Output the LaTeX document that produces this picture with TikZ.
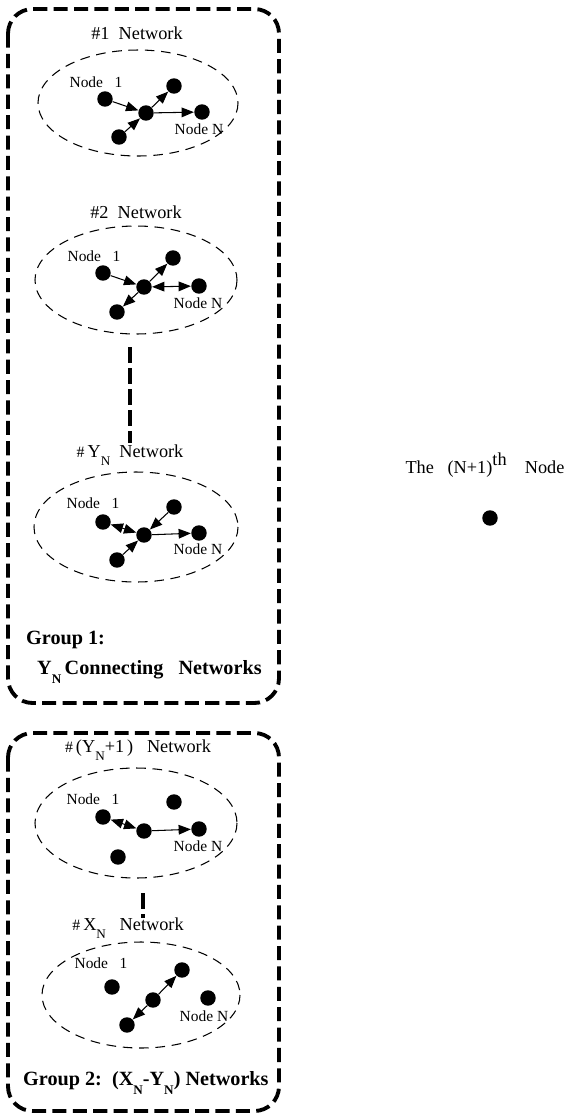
\documentclass[tikz,border=0pt]{standalone}
\usepackage{fontspec}
\setmainfont{Liberation Serif}
\usetikzlibrary{arrows.meta}

% subindice N colgado, como en el original
\newcommand{\subN}{\raisebox{-1ex}{\fontsize{7.5}{8}\selectfont N}}

\tikzset{
  dot/.style={circle, fill, inner sep=0pt, minimum size=8.8pt},
  nettitle/.style={font=\fontsize{10.4}{12}\selectfont},
  nodelabel/.style={font=\fontsize{8.8}{10}\selectfont},
  grouplabel/.style={font=\fontsize{11.5}{13}\selectfont\bfseries, anchor=west},
  netline/.style={line width=0.6pt},
  oneway/.style={netline, -{Triangle[length=7pt,width=5.5pt]}},
  twoway/.style={netline, {Triangle[length=7pt,width=5.5pt]}-{Triangle[length=7pt,width=5.5pt]}},
  netborder/.style={line width=0.6pt, dash pattern=on 5.5pt off 3.8pt},
  groupbox/.style={line width=2.2pt, dash pattern=on 8pt off 3.6pt, rounded corners=14pt},
  gapline/.style={line width=2.2pt, dash pattern=on 9pt off 3pt}
}

\begin{document}
\begin{tikzpicture}[x=0.02cm, y=-0.02cm]
  \useasboundingbox (0,0) rectangle (575,1117);

  % Grupo 1
  \draw[groupbox] (8,9) rectangle (279,703);

  % Red #1
  \node[nettitle] (t1) at (137,33) {\#1\ \ Network};
  \draw[netborder] (138,103) ellipse (100 and 53);
  \node[dot] (a1) at (105,99) {};
  \node[dot] (ac) at (146,113) {};
  \node[dot] (at) at (174,86) {};
  \node[dot] (aN) at (202,112) {};
  \node[dot] (ab) at (119,137) {};
  \node[nodelabel] (la1) at (96,82) {Node\ \ \ 1};
  \node[nodelabel] (laN) at (199,129) {Node\ N};
  \draw[oneway] (a1) -- (ac);
  \draw[oneway] (ac) -- (at);
  \draw[oneway] (ac) -- (aN);
  \draw[oneway] (ab) -- (ac);

  % Red #2
  \node[nettitle] (t2) at (136,212) {\#2\ \ Network};
  \draw[netborder] (136,280) ellipse (101 and 54);
  \node[dot] (b1) at (103,273) {};
  \node[dot] (bc) at (144,287) {};
  \node[dot] (bt) at (173,258) {};
  \node[dot] (bN) at (199,286) {};
  \node[dot] (bb) at (117,312) {};
  \node[nodelabel] (lb1) at (94,256) {Node\ \ \ 1};
  \node[nodelabel] (lbN) at (198,303) {Node\ N};
  \draw[oneway] (b1) -- (bc);
  \draw[oneway] (bc) -- (bt);
  \draw[twoway] (bc) -- (bN);
  \draw[oneway] (bc) -- (bb);

  % Puntos suspensivos (linea vertical)
  \coordinate (g1top) at (130,347);
  \coordinate (g1bot) at (130,443);
  \draw[gapline] (g1top) -- (g1bot);

  % Red #Y_N
  \node[nettitle] (t3) at (130,455) {{\small\#}\,Y\subN\ \ Network};
  \draw[netborder] (136,527) ellipse (102 and 55);
  \node[dot] (c1) at (103,522) {};
  \node[dot] (cc) at (144,535) {};
  \node[dot] (ct) at (174,507) {};
  \node[dot] (cN) at (199,533) {};
  \node[dot] (cb) at (117,560) {};
  \node[nodelabel] (lc1) at (93,503) {Node\ \ \ 1};
  \node[nodelabel] (lcN) at (198,549) {Node\ N};
  \draw[twoway] (c1) -- (cc);
  \draw[oneway] (ct) -- (cc);
  \draw[oneway] (cc) -- (cN);
  \draw[oneway] (cb) -- (cc);

  % Etiqueta del grupo 1
  \node[grouplabel] (g1a) at (20,640) {Group 1:};
  \node[grouplabel] (g1b) at (31,672) {Y\subN\,Connecting\ \ \ Networks};

  % Grupo 2
  \draw[groupbox] (8,733) rectangle (279,1111);

  % Red #(Y_N+1)
  \node[nettitle] (t4) at (138,750) {{\small\#}\,(Y\subN+1\,)\ \ \ Network};
  \draw[netborder] (136,823) ellipse (101 and 55);
  \node[dot] (d1) at (103,817) {};
  \node[dot] (dc) at (144,831) {};
  \node[dot] (dt) at (174,802) {};
  \node[dot] (dN) at (199,829) {};
  \node[dot] (db) at (118,857) {};
  \node[nodelabel] (ld1) at (93,799) {Node\ \ \ 1};
  \node[nodelabel] (ldN) at (198,846) {Node\ N};
  \draw[twoway] (d1) -- (dc);
  \draw[oneway] (dc) -- (dN);

  % Puntos suspensivos (corta)
  \coordinate (g2top) at (143,893);
  \coordinate (g2bot) at (143,918);
  \draw[gapline] (g2top) -- (g2bot);

  % Red #X_N
  \node[nettitle] (t5) at (128,928) {{\small\#}\,X\subN\ \ \ Network};
  \draw[netborder] (141,995) ellipse (99 and 53);
  \node[dot] (e1) at (112,987) {};
  \node[dot] (ec) at (153,1000) {};
  \node[dot] (et) at (182,970) {};
  \node[dot] (eN) at (208,998) {};
  \node[dot] (eb) at (127,1025) {};
  \node[nodelabel] (le1) at (101,963) {Node\ \ \ 1};
  \node[nodelabel] (leN) at (204,1016) {Node\ N};
  \draw[oneway] (ec) -- (et);
  \draw[oneway] (ec) -- (eb);

  % Etiqueta del grupo 2
  \node[grouplabel] (g2a) at (17,1083) {Group 2:\ \ (X\subN-Y\subN) Networks};

  % Nodo (N+1)
  \node[nettitle] (tn) at (485,465) {The\ \ \ (N+1)\raisebox{0.9ex}{th}\ \ \ \ Node};
  \node[dot] (nn) at (490,518) {};
\end{tikzpicture}
\end{document}
